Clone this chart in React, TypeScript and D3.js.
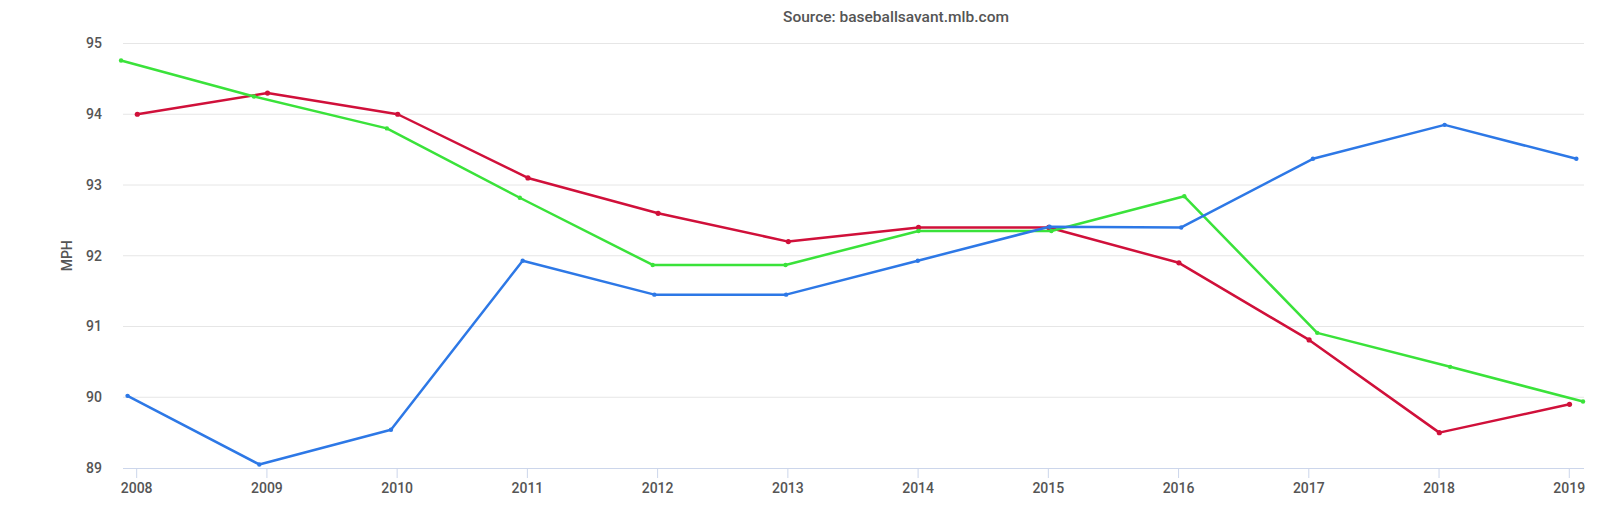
import React from "react";
import * as d3 from "d3";

const years = [2008, 2009, 2010, 2011, 2012, 2013, 2014, 2015, 2016, 2017, 2018, 2019];
const yTicks = [89, 90, 91, 92, 93, 94, 95];
const title = "Source: baseballsavant.mlb.com";
const yTitle = "MPH";

const redValues = [94.0, 94.3, 94.0, 93.1, 92.6, 92.2, 92.4, 92.4, 91.9, 90.81, 89.5, 89.9];
const greenValues = [94.76, 94.25, 93.8, 92.82, 91.87, 91.87, 92.35, 92.35, 92.84, 90.91, 90.43, 89.94];
const blueValues = [90.02, 89.05, 89.54, 91.93, 91.45, 91.45, 91.93, 92.41, 92.4, 93.37, 93.85, 93.37];

// each series' points are placed at slightly different dates (in years)
const redStart = 2008.005, redStep = 0.9997;
const greenStart = 2007.88, greenStep = 1.0205;
const blueStart = 2007.93, blueStep = 1.0113;

const W = 1600, H = 511;
const left = 123, right = 1584, top = 43.5, bottom = 468;

export default function App() {
  const x = d3.scaleLinear().domain([2007.895, 2019.113]).range([left, right]);
  const y = d3.scaleLinear().domain([89, 95]).range([bottom, top]);

  const series = [
    { name: "red", color: "#d0103a", values: redValues, start: redStart, step: redStep, r: 2.6 },
    { name: "green", color: "#3ae23a", values: greenValues, start: greenStart, step: greenStep, r: 2.2 },
    { name: "blue", color: "#2d78e6", values: blueValues, start: blueStart, step: blueStep, r: 2.2 },
  ];

  const line = d3
    .line<[number, number]>()
    .x((d) => x(d[0]))
    .y((d) => y(d[1]));

  const font = "Roboto, 'Open Sans', sans-serif";

  return (
    <svg width={W} height={H} style={{ position: "absolute", left: 0, top: 0, background: "#fff" }} fontFamily={font}>
      <rect x={0} y={0} width={W} height={H} fill="#fff" />
      <text x={896} y={21.5} textAnchor="middle" fontSize={15.5} fill="#555" fontWeight={500}>
        {title}
      </text>
      {yTicks.map((t) => (
        <g key={t}>
          {t !== 89 && (
            <line x1={left} x2={right} y1={y(t)} y2={y(t)} stroke="#e6e6e6" strokeWidth={1} />
          )}
          <text x={102} y={y(t)} dy="0.35em" textAnchor="end" fontSize={14} fill="#555" fontWeight={500}>
            {t}
          </text>
        </g>
      ))}
      <text
        transform={`translate(${71.5},${(top + bottom) / 2}) rotate(-90)`}
        textAnchor="middle"
        fontSize={14}
        fill="#555"
        fontWeight={500}
      >
        {yTitle}
      </text>
      <line x1={left} x2={right} y1={bottom + 0.5} y2={bottom + 0.5} stroke="#ccd6eb" strokeWidth={1} />
      {years.map((yr) => (
        <g key={yr}>
          <line x1={x(yr)} x2={x(yr)} y1={bottom} y2={bottom + 10} stroke="#ccd6eb" strokeWidth={1} />
          <text x={x(yr)} y={488} dy="0.35em" textAnchor="middle" fontSize={14} fill="#555" fontWeight={500}>
            {yr}
          </text>
        </g>
      ))}
      {series.map((s) => {
        const pts: [number, number][] = s.values.map((v, i) => [s.start + i * s.step, v]);
        return (
          <g key={s.name}>
            <path d={line(pts) || ""} fill="none" stroke={s.color} strokeWidth={2.5} strokeLinejoin="round" />
            {pts.map((p, i) => (
              <circle key={i} cx={x(p[0])} cy={y(p[1])} r={s.r} fill={s.color} />
            ))}
          </g>
        );
      })}
    </svg>
  );
}
